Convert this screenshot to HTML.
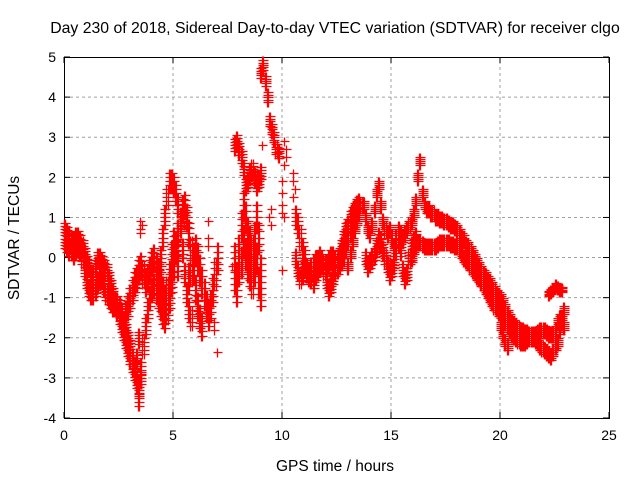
<!DOCTYPE html>
<html><head><meta charset="utf-8"><style>
body{margin:0;background:#fff}
svg{display:block;font-family:"Liberation Sans",sans-serif}
</style></head><body>
<svg id="chart" width="640" height="480" viewBox="0 0 640 480" xmlns="http://www.w3.org/2000/svg">
<rect width="640" height="480" fill="#fff"/>
<g id="grid"></g>
<g id="axes"></g>
<g id="marks"></g>
<text x="335" y="33" font-size="15.8" text-anchor="middle">Day 230 of 2018, Sidereal Day-to-day VTEC variation (SDTVAR) for receiver clgo</text>
<text x="335" y="471" font-size="15.5" text-anchor="middle">GPS time / hours</text>
<text x="0" y="0" font-size="15.5" text-anchor="middle" transform="translate(19,238) rotate(-90)">SDTVAR / TECUs</text>
</svg>
<script>
const xTicks=[0,5,10,15,20,25];
const yTicks=[-4,-3,-2,-1,0,1,2,3,4,5];
const trackStarts=[0.0,0.0,2.8,3.4,4.2,5.7,7.8,7.8,7.8,9.0,10.6,10.6,13.0,13.8,15.9,20.0,22.2];
const trackSpread=[0.15,0.15,0.25,0.2,0.25,0.3,0.15,0.3,0.3,0.12,0.2,0.15,0.1,0.15,0.1,0.1,0.06];
const trackValues=[
[0.7,0.6,0.5,0.4,0.4,0.5,0.5,0.4,0.3,0.1,-0.1,-0.2,-0.4,-0.4,-0.2,0.0,0.0,-0.1,-0.2,-0.3,-0.5,-0.7,-0.9,-1.1,-1.3,-1.5,-1.7,-1.9,-2.1,-2.3,-2.5,-2.7,-2.9,-3.1,-3.3,-3.0],
[0.4,0.3,0.2,0.2,0.1,0.2,0.3,0.2,0.0,-0.3,-0.6,-0.8,-0.9,-0.9,-0.8,-0.6,-0.5,-0.5,-0.7,-0.9,-1.0,-1.1,-1.2,-1.2,-1.1,-1.2,-1.4,-1.6,-1.8,-2.0,-2.2,-2.5,-2.7,-2.5,-2.0],
[-1.4,-1.2,-1.0,-0.8,-0.6,-0.5,-0.3,-0.2,-0.4,-0.6,-0.5,-0.3,-0.1,0.0,-0.2,-0.4,-0.6,-0.8,-1.0,-0.8,-0.4,0.1,0.4,0.2,-0.2],
[-3.5,-2.8,-2.2,-1.7,-1.3,-1.0,-0.8,-0.7,-0.5,-0.3,0.0,0.5,1.0,1.5,1.9,1.9,1.8,1.6,1.3,0.8,0.2,-0.4,-0.9,-1.3,-1.5],
[-0.8,-1.0,-1.2,-1.4,-1.5,-1.3,-1.0,-0.6,-0.2,0.3,0.6,0.9,1.2,1.3,1.0,0.6,0.2,-0.3,-0.8,-1.2,-1.5,-1.7],
[-0.5,-0.3,0.0,0.2,0.0,-0.3,-0.6,-0.9,-1.2,-1.4,-1.2,-0.8,-0.4,0.0],
[2.8,2.9,2.7,2.5,2.2,1.8,1.9,2.1,2.2,2.0,1.8,1.9,2.1],
[0.0,-0.5,0.2,0.8,1.3,1.0,0.6,0.4,0.2,0.5,1.0,0.5,-0.3],
[-0.5,-0.8,-0.3,-0.1,0.4,0.1,-0.2,-0.4,-0.6,-0.3,0.0,-0.6,-0.9],
[4.6,4.8,4.4,4.0,3.4,3.2,3.0,2.7,2.6],
[1.0,0.8,0.5,0.2,0.0,-0.3,-0.4,-0.3,-0.2,-0.1,-0.1,0.0,-0.1,-0.2,-0.2,-0.1,0.0,0.0,-0.1,-0.2,-0.1,0.0,0.1,0.3,0.5,0.7,0.9,1.1,1.2,1.3],
[0.0,-0.3,-0.5,-0.4,-0.2,-0.3,-0.4,-0.5,-0.6,-0.4,-0.3,-0.2,-0.1,-0.3,-0.6,-0.8,-0.7,-0.5,-0.3,-0.1,0.1,0.3,0.5,0.7,0.8,1.0,1.1,1.2,1.3,1.3],
[-0.2,0.1,0.4,0.7,0.9,1.1,1.3,1.3,1.0,0.7,0.6,0.8,1.2,1.6,1.8,1.3,0.9,0.7,0.6,0.7,0.5,0.3,0.5,0.7,0.6,0.5,0.6,0.7,0.8,0.9,1.1,1.4,2.0,2.4,1.6,1.3,1.2,1.2,1.1,1.1,1.0,1.0,0.95,0.95,0.9,0.9,0.85,0.8,0.8,0.75,0.7,0.6,0.5,0.45,0.35,0.3,0.2,0.1,0.0,-0.1,-0.2,-0.3,-0.4,-0.45,-0.55,-0.6,-0.7,-0.8,-0.9,-0.95,-1.0,-1.1,-1.25,-1.4,-1.5,-1.6,-1.65,-1.7,-1.75,-1.8,-1.8,-1.85,-1.85,-1.9,-1.9,-1.9,-1.9,-1.85,-1.8,-1.8,-1.8,-1.85,-1.9,-1.9,-1.9,-1.8,-1.6,-1.5,-1.6,-1.7],
[0.0,-0.2,-0.1,0.0,0.1,0.3,0.5,0.4,0.2,0.0,-0.2,-0.4,-0.3,-0.1,0.2,0.4,0.2,-0.3,-0.5,-0.4,0.0,0.3,0.4,0.5],
[0.0,0.2,0.3,0.4,0.4,0.35,0.3,0.3,0.3,0.3,0.3,0.3,0.35,0.4,0.4,0.4,0.4,0.4,0.35,0.35,0.3,0.3,0.2,0.1,0.0,-0.05,-0.1,-0.2,-0.3,-0.35,-0.45,-0.5,-0.6,-0.7,-0.8,-0.9,-1.0,-1.1,-1.2,-1.25,-1.35,-1.4,-1.5,-1.6,-1.7,-1.8,-1.9,-1.95,-2.0,-2.05,-2.1,-2.1,-2.1,-2.05,-2.0,-2.0,-2.0,-2.05,-2.1,-2.2,-2.25,-2.3,-2.35,-2.4,-2.45,-2.35,-2.2,-2.1,-1.8,-1.5,-1.3],
[-1.7,-1.9,-2.1,-2.2],
[-0.9,-0.85,-0.8,-0.7,-0.75,-0.8,-0.8]
];
const trackStep=0.1;
const scatterHours=[3.5,3.5,3.5,3.6,7.0,4.0,9.1,9.5,9.4,9.5,10.0,10.0,10.0,10.0,10.1,10.1,10.2,10.2,10.1,10.5,10.5,10.6,10.5,10.0,6.9,6.9,5.5,5.5,7.7,6.6,6.6,6.6];
const scatterValues=[0.9,0.6,0.7,0.8,-2.35,-1.0,2.8,1.2,1.0,0.8,1.9,1.6,1.3,1.1,1.0,2.9,2.7,2.5,2.3,2.1,1.9,1.7,1.5,-0.3,-1.8,-1.6,1.1,0.8,-0.2,0.9,0.5,0.3];

const X0=64,X1=609,Y0=418,Y1=57;
function xs(h){return X0+(h-0)/(25-0)*(X1-X0);}
function ys(v){return Y0-(v+4)/(5+4)*(Y0-Y1);}
const NS="http://www.w3.org/2000/svg";
const grid=document.getElementById('grid'),axes=document.getElementById('axes'),marks=document.getElementById('marks');
function mk(tag,attrs,parent){const e=document.createElementNS(NS,tag);for(const k in attrs)e.setAttribute(k,attrs[k]);parent.appendChild(e);return e;}
xTicks.forEach(t=>{
  const x=xs(t);
  if(t>0&&t<25){const g=mk('line',{x1:x,y1:Y0,x2:x,y2:Y1,stroke:'#a0a0a0','stroke-dasharray':'3,3','stroke-width':1},grid);
  
  }
  mk('line',{x1:x,y1:Y0,x2:x,y2:Y0-6,stroke:'#000'},axes);
  mk('line',{x1:x,y1:Y1,x2:x,y2:Y1+6,stroke:'#000'},axes);
  const l=mk('text',{x:x,y:Y0+22,'font-size':14,'text-anchor':'middle'},axes);l.textContent=t;
  
  
});
yTicks.forEach(t=>{
  const y=ys(t);
  if(t>-4&&t<5){const g=mk('line',{x1:X0,y1:y,x2:X1,y2:y,stroke:'#a0a0a0','stroke-dasharray':'3,3','stroke-width':1},grid);
  
  }
  mk('line',{x1:X0,y1:y,x2:X0+6,y2:y,stroke:'#000'},axes);
  mk('line',{x1:X1,y1:y,x2:X1-6,y2:y,stroke:'#000'},axes);
  const l=mk('text',{x:X0-8,y:y+5,'font-size':14,'text-anchor':'end'},axes);l.textContent=t;
  
  
});
const border=mk('rect',{x:X0+0.5,y:Y1+0.5,width:X1-X0,height:Y0-Y1,fill:'none',stroke:'#000'},axes);


let d='';
function plus(h,v){const x=Math.round(xs(h))+0.5,y=Math.round(ys(v))+0.5;d+=`M${x-4} ${y}h9M${x} ${y-4}v9`;}
trackValues.forEach((vals,i)=>{
  const s=trackSpread[i];
  vals.forEach((v,j)=>{
    const h=trackStarts[i]+j*trackStep;
    [h,h+trackStep/2].forEach(hh=>{
      for(let k=-2;k<=2;k++) plus(hh,v+k*s/2);
    });
  });
});
scatterHours.forEach((h,i)=>plus(h,scatterValues[i]));
const p=mk('path',{d:d,stroke:'#ff0000','stroke-width':1.3,fill:'none'},marks);


</script>
</body></html>
